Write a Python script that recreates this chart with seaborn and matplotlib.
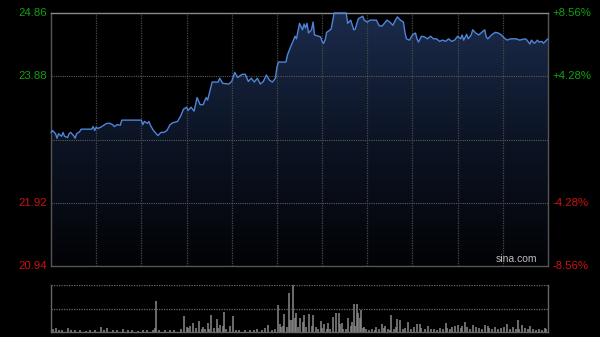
import numpy as np
import pandas as pd
import matplotlib
matplotlib.use("Agg")
import matplotlib.pyplot as plt
import seaborn as sns
from matplotlib.colors import LinearSegmentedColormap

# ---------------- data ----------------
price_minutes = [0, 1, 3, 4, 5, 7, 8, 9, 11, 12, 13, 15, 16, 17, 19, 20, 25, 27, 28, 29,
                 30, 31, 33, 35, 37, 39, 41, 42, 44, 46, 47, 60, 61, 62, 64, 65, 66, 68, 71, 73,
                 75, 77, 79, 81, 84, 86, 88, 90, 91, 93, 95, 97, 99, 101, 103, 104, 107, 111, 112, 114,
                 118, 120, 122, 124, 125, 127, 129, 131, 133, 135, 137, 139, 141, 143, 145, 147, 149, 150, 151, 156,
                 157, 159, 161, 162, 163, 165, 167, 168, 169, 170, 171, 173, 174, 175, 179, 180, 181, 182, 183, 186,
                 188, 196, 197, 199, 201, 202, 204, 207, 208, 210, 212, 216, 218, 220, 223, 225, 227, 228, 230, 232,
                 234, 235, 236, 238, 240, 242, 243, 244, 246, 248, 250, 252, 254, 256, 258, 260, 262, 264, 266, 268,
                 270, 272, 273, 274, 276, 277, 279, 280, 282, 284, 286, 288, 289, 290, 293, 295, 297, 299, 301, 303,
                 305, 309, 311, 315, 316, 318, 319, 320, 321, 323, 324, 326, 327, 329, 330]
price_values = [23.01, 23.04, 22.99, 22.92, 22.99, 22.95, 23.01, 22.95, 22.93, 22.99, 23.01, 22.96, 22.92, 22.99, 23.02, 23.06, 23.06, 23.06, 23.10, 23.04,
                23.09, 23.07, 23.09, 23.12, 23.15, 23.15, 23.13, 23.10, 23.13, 23.12, 23.20, 23.20, 23.13, 23.18, 23.15, 23.18, 23.12, 23.04, 22.96, 23.01,
                23.01, 23.04, 23.13, 23.16, 23.18, 23.26, 23.37, 23.40, 23.35, 23.40, 23.34, 23.55, 23.44, 23.44, 23.55, 23.51, 23.79, 23.79, 23.85, 23.77,
                23.76, 23.80, 23.94, 23.86, 23.88, 23.91, 23.91, 23.80, 23.85, 23.79, 23.85, 23.76, 23.80, 23.90, 23.82, 23.79, 23.85, 24.02, 24.10, 24.10,
                24.21, 24.33, 24.44, 24.50, 24.46, 24.70, 24.60, 24.69, 24.63, 24.70, 24.55, 24.60, 24.72, 24.52, 24.49, 24.42, 24.39, 24.44, 24.56, 24.61,
                24.86, 24.86, 24.70, 24.75, 24.60, 24.61, 24.77, 24.81, 24.75, 24.72, 24.75, 24.75, 24.66, 24.66, 24.75, 24.72, 24.67, 24.72, 24.80, 24.75,
                24.72, 24.56, 24.46, 24.44, 24.52, 24.55, 24.46, 24.41, 24.50, 24.49, 24.46, 24.50, 24.46, 24.46, 24.42, 24.44, 24.42, 24.46, 24.42, 24.44,
                24.50, 24.46, 24.52, 24.44, 24.53, 24.46, 24.52, 24.60, 24.55, 24.52, 24.56, 24.60, 24.49, 24.46, 24.53, 24.56, 24.55, 24.52, 24.47, 24.44,
                24.46, 24.46, 24.44, 24.46, 24.44, 24.38, 24.44, 24.41, 24.39, 24.44, 24.41, 24.42, 24.39, 24.44, 24.46]

vol_minutes = [1, 3, 5, 7, 11, 13, 16, 19, 23, 26, 29, 33, 35, 37, 41, 44, 48, 51, 54, 58,
               61, 64, 68, 69, 70, 72, 76, 79, 82, 86, 88, 90, 91, 92, 94, 96, 98, 100, 101, 102,
               104, 105, 106, 108, 110, 111, 112, 114, 115, 116, 119, 121, 123, 125, 129, 132, 135, 137, 140, 142,
               144, 147, 149, 151, 152, 153, 154, 155, 157, 158, 159, 160, 161, 162, 163, 164, 165, 167, 168, 169,
               171, 173, 174, 176, 177, 179, 180, 181, 183, 184, 185, 187, 189, 191, 192, 193, 194, 196, 197, 199,
               200, 201, 202, 203, 204, 205, 206, 207, 208, 209, 211, 213, 215, 216, 218, 220, 221, 222, 224, 225,
               226, 228, 229, 230, 232, 234, 235, 237, 239, 241, 243, 245, 246, 248, 250, 252, 254, 256, 258, 260,
               262, 263, 265, 266, 268, 270, 272, 273, 275, 276, 278, 280, 282, 284, 286, 288, 290, 291, 293, 295,
               297, 299, 301, 303, 305, 307, 309, 310, 311, 313, 315, 317, 318, 320, 322, 324, 326, 328, 329]
vol_values = [3, 4, 2, 2, 4, 2, 2, 2, 1, 2, 2, 5, 2, 4, 2, 2, 3, 2, 2, 1,
              2, 2, 2, 4, 31, 2, 2, 2, 2, 3, 16, 5, 4, 6, 9, 4, 11, 3, 5, 3,
              9, 3, 17, 4, 13, 4, 7, 6, 20, 3, 6, 16, 2, 2, 2, 2, 2, 3, 2, 4,
              7, 2, 3, 27, 8, 5, 6, 18, 5, 39, 12, 12, 47, 14, 19, 5, 14, 10, 17, 5,
              18, 6, 17, 5, 3, 11, 4, 8, 3, 9, 3, 15, 19, 19, 8, 9, 3, 3, 14, 6,
              10, 28, 6, 28, 19, 14, 22, 4, 5, 3, 2, 3, 2, 5, 3, 8, 4, 6, 3, 2,
              17, 3, 5, 13, 12, 3, 4, 10, 3, 5, 8, 8, 4, 3, 6, 3, 3, 2, 4, 3,
              9, 4, 3, 5, 6, 7, 4, 6, 10, 5, 3, 7, 5, 4, 3, 7, 6, 4, 3, 5,
              3, 4, 5, 8, 3, 5, 3, 12, 3, 7, 4, 3, 6, 3, 2, 3, 2, 4, 3]

prev_close = 22.90
left_ticks = [24.86, 23.88, 21.92, 20.94]
left_labels = ["24.86", "23.88", "21.92", "20.94"]
right_labels = ["+8.56%", "+4.28%", "-4.28%", "-8.56%"]
grid_minutes = [30, 60, 90, 120, 150, 180, 210, 240, 270, 300]

# ---------------- style ----------------
sns.set_style("dark")
plt.rcParams["font.family"] = ["Liberation Sans", "DejaVu Sans"]

W, H = 600, 337
fig = plt.figure(figsize=(6, 3.37), dpi=100, facecolor="black")
ax = fig.add_axes([51 / W, 1 - 266 / H, 497 / W, 253 / H])
axv = fig.add_axes([51 / W, 1 - 332 / H, 497 / W, 47 / H])

GREEN = "#12a012"
RED = "#cc1111"
GRID = "#4a4a4a"

for a in (ax, axv):
    a.set_facecolor("black")
    a.set_xticks([])
    a.set_yticks([])
    a.grid(False)

ymin, ymax = 20.94, 24.86
ax.set_xlim(0, 330)
ax.set_ylim(ymin, ymax)

df = pd.DataFrame({"minute": price_minutes, "price": price_values})

# gradient fill under the line
poly = ax.fill_between(df["minute"], df["price"], ymin, color="none", lw=0)
grad = np.linspace(1, 0, 256).reshape(-1, 1)
cmap = LinearSegmentedColormap.from_list("g", ["#020306", "#0c1424", "#1b2b4b"])
img = ax.imshow(grad, extent=[0, 330, ymin, ymax], aspect="auto", cmap=cmap,
                origin="upper", zorder=1, interpolation="bilinear")
img.set_clip_path(poly.get_paths()[0], transform=ax.transData)

# grid lines
for m in grid_minutes:
    ax.axvline(m, color=GRID, lw=0.9, ls=(0, (1, 1)), zorder=2)
for yv in [23.88, prev_close, 21.92]:
    ax.axhline(yv, color="#5a5a5a", lw=0.8, ls=(0, (1, 1)), zorder=2)

sns.lineplot(data=df, x="minute", y="price", ax=ax, color="#4f84d8", lw=1.0,
             zorder=4, clip_on=False)
ax.set_xlabel("")
ax.set_ylabel("")
ax.set_xlim(0, 330)
ax.set_ylim(ymin, ymax)

for s in ax.spines.values():
    s.set_visible(True)
    s.set_color("#555555")
    s.set_linewidth(1.0)
ax.spines["top"].set_color("#8a8a8a")
ax.spines["top"].set_zorder(3)

# axis labels
for yv, lab, rl in zip(left_ticks, left_labels, right_labels):
    col = GREEN if yv > prev_close else RED
    ax.text(-0.008, (yv - ymin) / (ymax - ymin), lab, transform=ax.transAxes,
            ha="right", va="center", color=col, fontsize=8.2)
    ax.text(1.010, (yv - ymin) / (ymax - ymin), rl, transform=ax.transAxes,
            ha="left", va="center", color=col, fontsize=8.2)

ax.text(0.978, 0.008, "sina.com", transform=ax.transAxes, ha="right", va="bottom",
        color="#bdbdbd", fontsize=7.5, zorder=5)

# volume panel
axv.set_xlim(0, 330)
axv.set_ylim(0, 47)
axv.vlines(vol_minutes, 0, vol_values, color="#8a8a8a", lw=1.1)
axv.axhline(47, color="#6a6a6a", lw=0.9, ls=(0, (1, 1)))
axv.axhline(23.5, color="#6a6a6a", lw=0.9, ls=(0, (1, 1)))
for k, s in axv.spines.items():
    s.set_visible(k != "top")
    s.set_color("#666666")
    s.set_linewidth(1.0)

fig.savefig("out.png", dpi=100, facecolor="black")
